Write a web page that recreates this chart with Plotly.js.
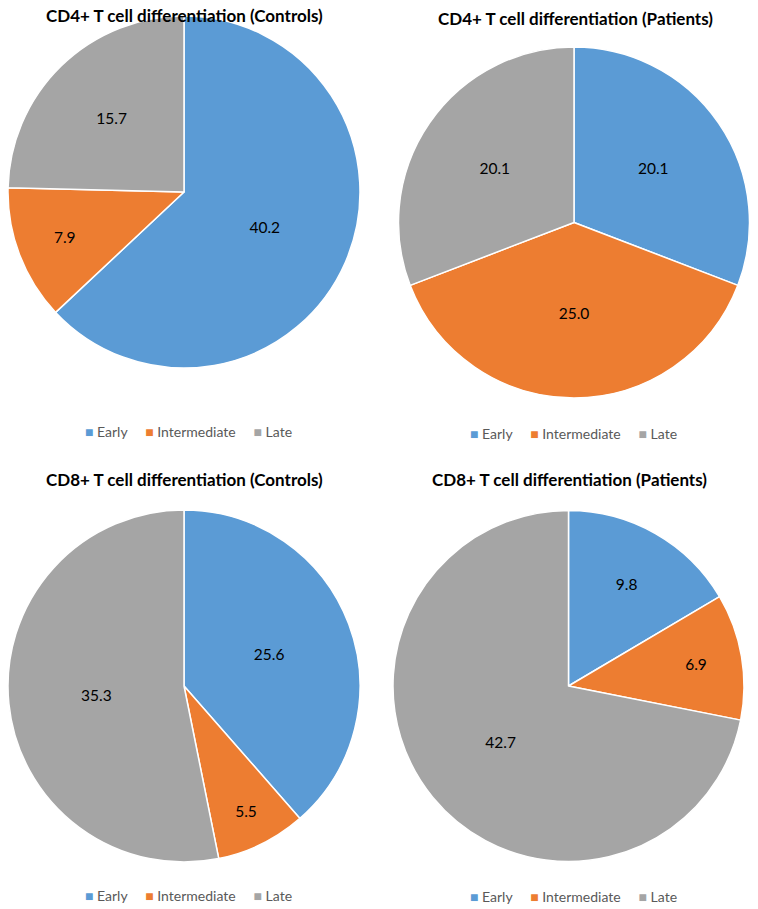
<!DOCTYPE html>
<html>
<head>
<meta charset="utf-8">
<script src="https://cdn.plot.ly/plotly-3.0.1.min.js"></script>
<style>
  html, body { margin: 0; padding: 0; background: #fff; }
  #chart { width: 758px; height: 909px; }
</style>
</head>
<body>
<div id="chart"></div>
<script>
const categories = ['Early', 'Intermediate', 'Late']
const colors = ['#5B9BD5', '#ED7D31', '#A5A5A5']

const cd4Controls = [40.2, 7.9, 15.7]
const cd4Patients = [20.1, 25.0, 20.1]
const cd8Controls = [25.6, 5.5, 35.3]
const cd8Patients = [9.8, 6.9, 42.7]

const titles = [
  'CD4+ T cell differentiation (Controls)',
  'CD4+ T cell differentiation (Patients)',
  'CD8+ T cell differentiation (Controls)',
  'CD8+ T cell differentiation (Patients)'
]

const W = 758, H = 909
// pie boxes in pixels: left, right, top, bottom
const boxes = [
  [8, 360, 16, 368],
  [398, 750, 47, 398],
  [8, 360, 510, 862],
  [393, 744, 510, 862]
]
const titlePos = [[184, 16], [575, 19], [184, 480], [569, 480]]
const legendPos = [[188, 431], [573, 434], [188, 895], [573, 896]]

const series = [cd4Controls, cd4Patients, cd8Controls, cd8Patients]

const data = series.map((vals, i) => {
  const b = boxes[i]
  return {
    type: 'pie',
    labels: categories,
    values: vals,
    sort: false,
    direction: 'clockwise',
    rotation: 0,
    marker: { colors: colors, line: { color: '#ffffff', width: 1.5 } },
    texttemplate: '%{value:.1f}',
    textposition: 'inside',
    insidetextorientation: 'horizontal',
    textfont: { family: 'Lato, "Open Sans", sans-serif', size: 15.5, color: '#000000' },
    hoverinfo: 'label+value',
    domain: { x: [b[0] / W, b[1] / W], y: [1 - b[3] / H, 1 - b[2] / H] },
    showlegend: false
  }
})

// legend drawn as text: one coloured square per category
const sp = '\u00a0'
const legendText = categories.map((c, k) =>
  '<span style="color:' + colors[k] + '">\u25a0</span>' + sp + c
).join(sp + sp + sp + sp + sp)

const annotations = titles.map((t, i) => ({
  text: '<b>' + t + '</b>',
  x: titlePos[i][0] / W,
  y: 1 - titlePos[i][1] / H,
  xref: 'paper', yref: 'paper',
  xanchor: 'center', yanchor: 'middle',
  showarrow: false,
  font: { size: 17, color: '#000000' }
}))

legendPos.forEach(p => {
  annotations.push({
    text: legendText,
    x: p[0] / W,
    y: 1 - p[1] / H,
    xref: 'paper', yref: 'paper',
    xanchor: 'center', yanchor: 'middle',
    showarrow: false,
    font: { size: 14, color: '#595959' }
  })
})

const layout = {
  width: W,
  height: H,
  margin: { l: 0, r: 0, t: 0, b: 0 },
  paper_bgcolor: '#ffffff',
  font: { family: 'Lato, "Open Sans", sans-serif' },
  showlegend: false,
  annotations: annotations
}

Plotly.newPlot('chart', data, layout, { displayModeBar: false })
</script>
</body>
</html>
